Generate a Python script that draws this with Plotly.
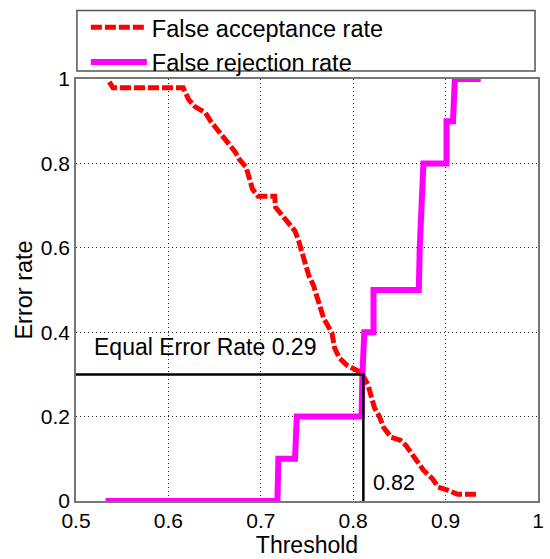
import plotly.graph_objects as go

# False acceptance rate (red dashed)
far_x = [0.536, 0.540, 0.616, 0.622, 0.629, 0.640, 0.646, 0.657, 0.665, 0.672, 0.677, 0.684,
         0.688, 0.691, 0.697, 0.715, 0.716, 0.720, 0.729, 0.737, 0.741, 0.745, 0.750, 0.752,
         0.757, 0.761, 0.764, 0.768, 0.777, 0.780, 0.785, 0.793, 0.803, 0.809, 0.816, 0.819,
         0.823, 0.828, 0.833, 0.841, 0.851, 0.857, 0.864, 0.870, 0.876, 0.886, 0.892, 0.902,
         0.913, 0.935]
far_y = [0.993, 0.979, 0.979, 0.951, 0.934, 0.920, 0.899, 0.868, 0.845, 0.828, 0.809, 0.791,
         0.762, 0.739, 0.722, 0.722, 0.696, 0.685, 0.661, 0.640, 0.616, 0.586, 0.558, 0.534,
         0.511, 0.487, 0.461, 0.433, 0.398, 0.362, 0.339, 0.322, 0.311, 0.304, 0.275, 0.249,
         0.221, 0.202, 0.174, 0.151, 0.144, 0.132, 0.111, 0.092, 0.073, 0.052, 0.033, 0.026,
         0.016, 0.016]

# False rejection rate (magenta solid)
frr_x = [0.532, 0.718, 0.719, 0.737, 0.739, 0.809, 0.810, 0.812, 0.822, 0.822, 0.871, 0.872,
         0.876, 0.901, 0.901, 0.908, 0.910, 0.938]
frr_y = [0.0, 0.0, 0.1, 0.1, 0.2, 0.2, 0.3, 0.4, 0.4, 0.5, 0.5, 0.6,
         0.8, 0.8, 0.9, 0.9, 1.0, 1.0]

# Equal error rate point
eer_x = 0.811
eer_y = 0.30
eer_label = "Equal Error Rate 0.29"
thr_label = "0.82"

x_ticks = [0.5, 0.6, 0.7, 0.8, 0.9, 1.0]
x_ticktext = ["0.5", "0.6", "0.7", "0.8", "0.9", "1"]
y_ticks = [0, 0.2, 0.4, 0.6, 0.8, 1.0]
y_ticktext = ["0", "0.2", "0.4", "0.6", "0.8", "1"]

FONT = "Liberation Sans, Arial, Helvetica, sans-serif"

fig = go.Figure()
fig.add_trace(go.Scatter(x=far_x, y=far_y, mode="lines", name="False acceptance rate",
                         legendgroup="a",
                         line=dict(color="#ff0000", width=5, dash="11px,3px")))
fig.add_trace(go.Scatter(x=frr_x, y=frr_y, mode="lines", name="False rejection rate",
                         legendgroup="b",
                         line=dict(color="#ff00ff", width=6)))
fig.add_trace(go.Scatter(x=[0.5, eer_x, eer_x], y=[eer_y, eer_y, 0], mode="lines",
                         showlegend=False, line=dict(color="black", width=2.5)))

fig.add_annotation(x=0.517, y=0.365, xref="x", yref="y", text=eer_label, showarrow=False,
                   xanchor="left", yanchor="middle", font=dict(family=FONT, size=23, color="black"))
fig.add_annotation(x=0.8194, y=0.042, xref="x", yref="y", text=thr_label, showarrow=False,
                   xanchor="left", yanchor="middle", font=dict(family=FONT, size=21.5, color="black"))

# legend frame
fig.add_shape(type="rect", xref="paper", yref="paper", x0=0.002, x1=0.9936, y0=1.0188, y1=1.1624,
              line=dict(color="#555555", width=1.5), fillcolor="white", layer="below")

fig.update_layout(
    width=550, height=559,
    margin=dict(l=76, r=6, t=79, b=55),
    paper_bgcolor="white", plot_bgcolor="white",
    font=dict(family=FONT, size=21, color="black"),
    showlegend=True,
    legend=dict(x=(86 - 76) / 468, y=1.174, xanchor="left", yanchor="top", bgcolor="rgba(0,0,0,0)",
                font=dict(family=FONT, size=23.5, color="black"), borderwidth=0,
                itemwidth=56, tracegroupgap=1),
    xaxis=dict(range=[0.5, 1.0], tickvals=x_ticks, ticktext=x_ticktext, showgrid=True,
               gridcolor="#222222", griddash="1px,3px", gridwidth=1, zeroline=False,
               showline=True, mirror=True, linecolor="#777777", linewidth=1.5,
               tickfont=dict(size=21), title=dict(text="Threshold", font=dict(size=23), standoff=5)),
    yaxis=dict(range=[0, 1.0], tickvals=y_ticks, ticktext=y_ticktext, showgrid=True,
               gridcolor="#222222", griddash="1px,3px", gridwidth=1, zeroline=False,
               showline=True, mirror=True, linecolor="#777777", linewidth=1.5,
               tickfont=dict(size=21), title=dict(text="Error rate", font=dict(size=23.5), standoff=2)),
)

fig.write_html("out.html")
